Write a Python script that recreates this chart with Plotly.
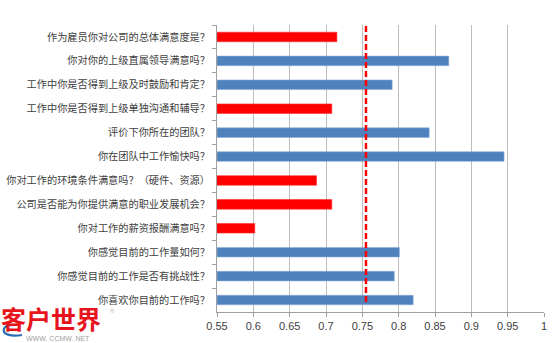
import plotly.graph_objects as go

# Survey questions (top to bottom) and their satisfaction scores
questions = [
    "作为雇员你对公司的总体满意度是？",
    "你对你的上级直属领导满意吗？",
    "工作中你是否得到上级及时鼓励和肯定？",
    "工作中你是否得到上级单独沟通和辅导？",
    "评价下你所在的团队？",
    "你在团队中工作愉快吗？",
    "你对工作的环境条件满意吗？（硬件、资源）",
    "公司是否能为你提供满意的职业发展机会？",
    "你对工作的薪资报酬满意吗？",
    "你感觉目前的工作量如何？",
    "你感觉目前的工作是否有挑战性？",
    "你喜欢你目前的工作吗？",
]
scores = [0.715, 0.869, 0.791, 0.708, 0.842, 0.945, 0.687, 0.708, 0.602, 0.801, 0.794, 0.820]

# Reference level drawn as a dashed line
benchmark = 0.755
axis_min, axis_max = 0.55, 1.0
tick_vals = [0.55, 0.6, 0.65, 0.7, 0.75, 0.8, 0.85, 0.9, 0.95, 1]
tick_text = ["0.55", "0.6", "0.65", "0.7", "0.75", "0.8", "0.85", "0.9", "0.95", "1"]

BLUE = "#4F81BD"
RED = "#FF0000"
colors = [RED if s < benchmark else BLUE for s in scores]
edges = ["#FF3030" if s < benchmark else "#8EADD8" for s in scores]

W, H = 560, 343
ML, MR, MT, MB = 217, 16, 25, 31
PW, PH = W - ML - MR, H - MT - MB


def px(xp):
    """Pixel column -> paper x."""
    return (xp - ML) / PW


def py(yp):
    """Pixel row -> paper y."""
    return (H - MB - yp) / PH


fig = go.Figure()
fig.add_trace(go.Bar(
    x=[s - axis_min for s in scores],
    base=axis_min,
    y=questions,
    orientation="h",
    marker=dict(color=colors, line=dict(color=edges, width=0.6)),
    customdata=scores,
    hovertemplate="%{y}: %{customdata}<extra></extra>",
))

fig.add_shape(
    type="line", xref="x", yref="paper",
    x0=benchmark, x1=benchmark, y0=0.035, y1=1.0,
    line=dict(color=RED, width=2.5, dash="6px,3px"),
)

# Brand mark in the lower-left corner
fig.add_annotation(
    xref="paper", yref="paper", x=px(-1), y=py(318),
    text="<b>客户世界</b>", showarrow=False,
    xanchor="left", yanchor="middle",
    font=dict(family="Noto Sans CJK SC", size=25, color="#E8141B"),
)
fig.add_annotation(
    xref="paper", yref="paper", x=px(24), y=py(339),
    text="WWW. CCMW. NET", showarrow=False,
    xanchor="left", yanchor="middle",
    font=dict(family="Liberation Sans", size=7, color="#A0A0A0"),
)
fig.add_annotation(
    xref="paper", yref="paper", x=px(108), y=py(311),
    text="®", showarrow=False,
    xanchor="left", yanchor="middle",
    font=dict(family="Liberation Sans", size=6, color="#B0B0B0"),
)
fig.add_shape(
    type="path", xref="paper", yref="paper",
    path=(f"M {px(18)},{py(325)} Q {px(2)},{py(324)} {px(4)},{py(332)} "
          f"Q {px(8)},{py(337)} {px(22)},{py(335)}"),
    line=dict(color="#2A6DB5", width=2.2),
)

fig.update_layout(
    width=W, height=H,
    margin=dict(l=ML, r=MR, t=MT, b=MB, autoexpand=False),
    paper_bgcolor="white", plot_bgcolor="white",
    showlegend=False,
    bargap=0.6,
    xaxis=dict(
        range=[axis_min, axis_max],
        tickvals=tick_vals, ticktext=tick_text,
        showgrid=True, gridcolor="#BDBDBD", gridwidth=1,
        zeroline=False,
        showline=True, linecolor="#A0A0A0", linewidth=1,
        ticks="outside", ticklen=4, tickcolor="#A0A0A0",
        tickfont=dict(family="Liberation Sans", size=11, color="#404040"),
        automargin=False,
        fixedrange=True,
    ),
    yaxis=dict(
        type="category",
        autorange="reversed",
        showgrid=False, zeroline=False,
        showline=True, linecolor="#A0A0A0", linewidth=1,
        ticks="outside", ticklen=4, tickcolor="#A0A0A0",
        tickson="boundaries",
        ticklabelstandoff=4,
        tickfont=dict(family="Noto Sans CJK SC", size=10.2, color="#404040"),
        automargin=False,
        fixedrange=True,
    ),
)

fig.write_html("out.html")
